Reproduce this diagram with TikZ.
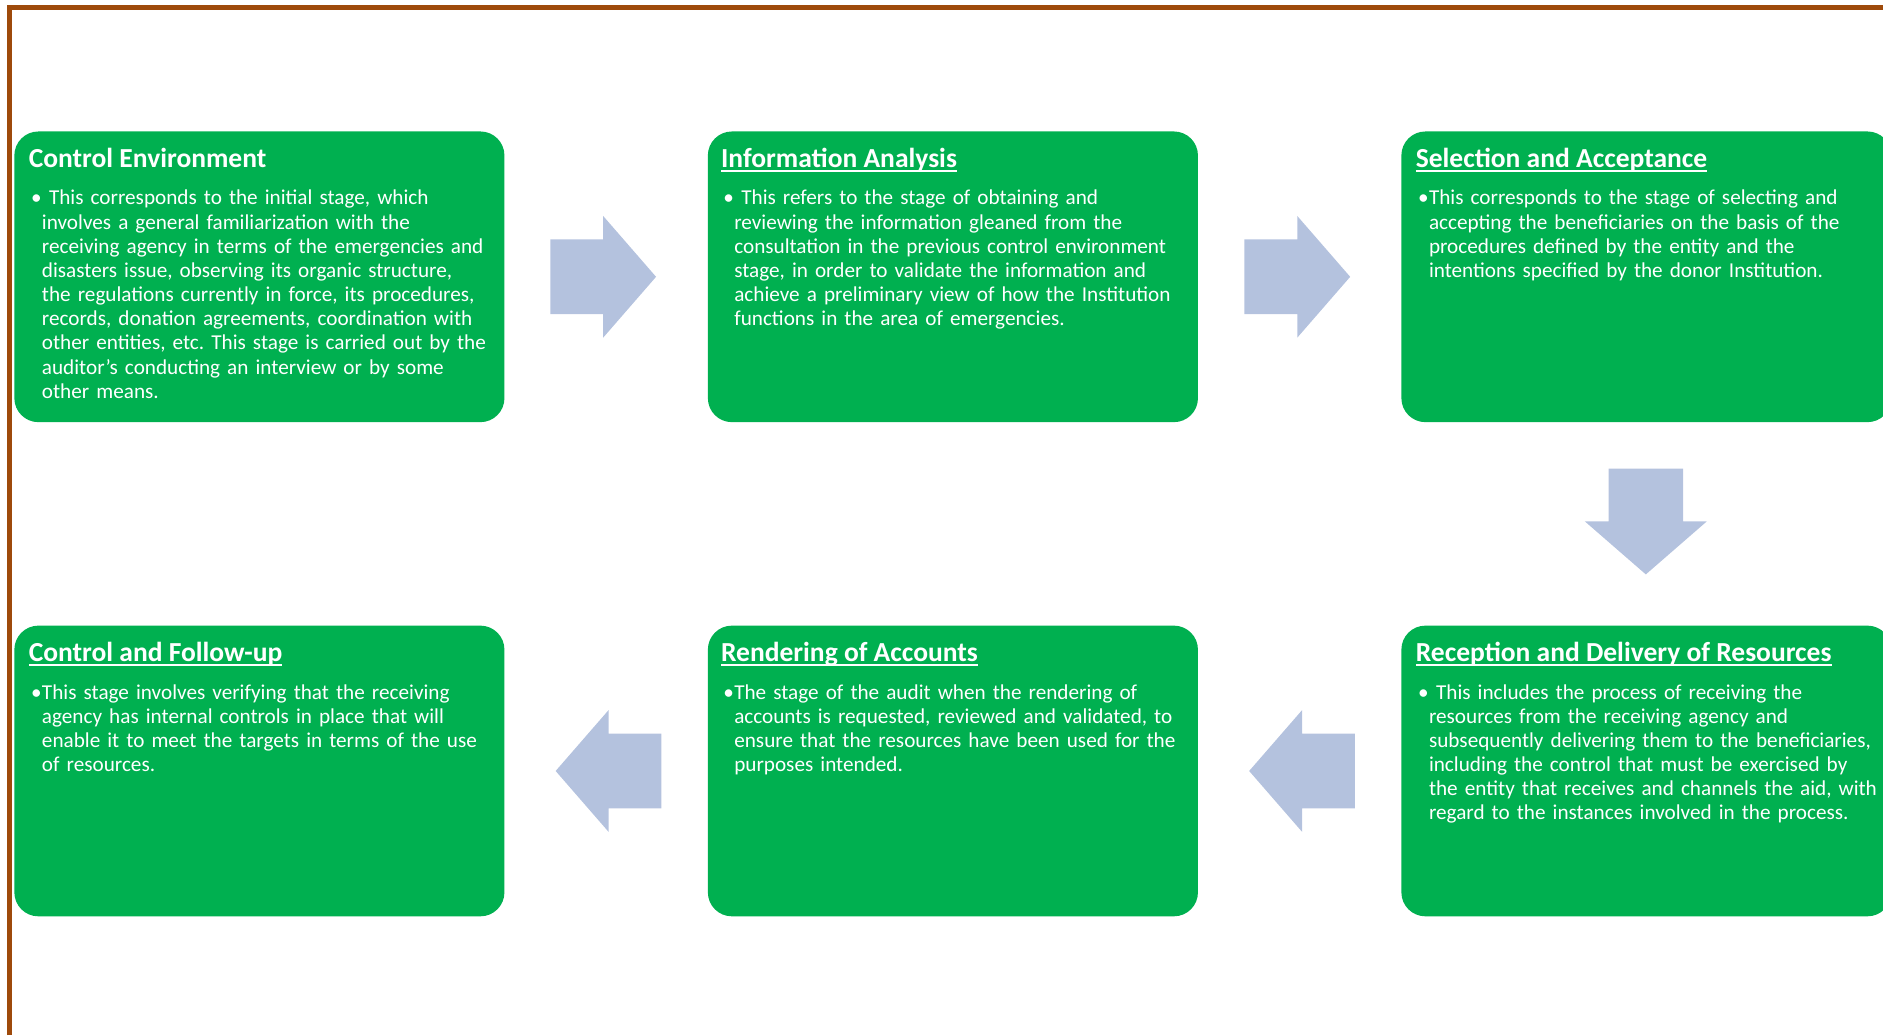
\documentclass[tikz,border=0pt]{standalone}
\usepackage{fontspec}
\setmainfont{Carlito}
\usetikzlibrary{shapes.arrows}

\definecolor{stagegreen}{HTML}{00B050}
\definecolor{arrowblue}{HTML}{B4C2DE}
\definecolor{framebrown}{HTML}{9E4A0B}

% bullet hung into the left margin of the body text
\newcommand{\stagebul}{\llap{\makebox[0.225cm][l]{\textbullet}}}
% underline that runs through the descenders
\newcommand{\stageul}[1]{\setbox0\hbox{#1}\rlap{\rule[-0.17em]{\wd0}{0.07em}}\box0}

\begin{document}
\begin{tikzpicture}[x=0.025cm,y=-0.025cm]
\tikzset{
  stagebox/.style={rectangle,rounded corners=0.5cm,fill=stagegreen,minimum width=10.2cm,minimum height=6.05cm,inner sep=0pt},
  stagetitle/.style={anchor=base west,inner sep=0pt,text=white,font=\fontsize{16.3}{19}\selectfont\bfseries},
  stagetext/.style={anchor=base west,inner sep=0pt,text=white,text width=10.2cm,align=left,font=\fontsize{12.55}{14.3}\selectfont\frenchspacing},
  flowarrow/.style={single arrow,anchor=tail,fill=arrowblue,inner xsep=0pt,inner ysep=0.77cm,minimum height=2.2cm,single arrow head extend=0.49cm,single arrow tip angle=98},
  frameline/.style={draw=framebrown,line width=0.115cm}
}
\useasboundingbox (0,0) rectangle (1568,862);
\draw[frameline] (8.1,862) -- (8.1,6.2) -- (1568,6.2);

% top row
\node[stagebox] (n_env) at (216,230.5) {};
\node[stagebox] (n_info) at (793.5,230.5) {};
\node[stagebox] (n_sel) at (1371,230.5) {};
% bottom row
\node[stagebox] (n_follow) at (216,642) {};
\node[stagebox] (n_rend) at (793.5,642) {};
\node[stagebox] (n_recv) at (1371,642) {};

\node[stagetitle] (t_env) at ([shift={(12,30)}]n_env.north west) {Control Environment};
\node[stagetext] (b_env) at ([shift={(23,61.5)}]n_env.north west) {\stagebul\ This corresponds to the initial stage, which\\
involves a general familiarization with the\\
receiving agency in terms of the emergencies and\\
disasters issue, observing its organic structure,\\
the regulations currently in force, its procedures,\\
records, donation agreements, coordination with\\
other entities, etc. This stage is carried out by the\\
auditor’s conducting an interview or by some\\
other means.};

\node[stagetitle] (t_info) at ([shift={(11,30)}]n_info.north west) {\stageul{Information Analysis}};
\node[stagetext] (b_info) at ([shift={(22,61.5)}]n_info.north west) {\stagebul\ This refers to the stage of obtaining and\\
reviewing the information gleaned from the\\
consultation in the previous control environment\\
stage, in order to validate the information and\\
achieve a preliminary view of how the Institution\\
functions in the area of emergencies.};

\node[stagetitle] (t_sel) at ([shift={(12,30)}]n_sel.north west) {\stageul{Selection and Acceptance}};
\node[stagetext] (b_sel) at ([shift={(23,61.5)}]n_sel.north west) {\stagebul This corresponds to the stage of selecting and\\
accepting the beneficiaries on the basis of the\\
procedures defined by the entity and the\\
intentions specified by the donor Institution.};

\node[stagetitle] (t_recv) at ([shift={(12,30)}]n_recv.north west) {\stageul{Reception and Delivery of Resources}};
\node[stagetext] (b_recv) at ([shift={(23,61.5)}]n_recv.north west) {\stagebul\ This includes the process of receiving the\\
resources from the receiving agency and\\
subsequently delivering them to the beneficiaries,\\
including the control that must be exercised by\\
the entity that receives and channels the aid, with\\
regard to the instances involved in the process.};

\node[stagetitle] (t_rend) at ([shift={(11,30)}]n_rend.north west) {\stageul{Rendering of Accounts}};
\node[stagetext] (b_rend) at ([shift={(22,61.5)}]n_rend.north west) {\stagebul The stage of the audit when the rendering of\\
accounts is requested, reviewed and validated, to\\
ensure that the resources have been used for the\\
purposes intended.};

\node[stagetitle] (t_follow) at ([shift={(12,30)}]n_follow.north west) {\stageul{Control and Follow-up}};
\node[stagetext] (b_follow) at ([shift={(23,61.5)}]n_follow.north west) {\stagebul This stage involves verifying that the receiving\\
agency has internal controls in place that will\\
enable it to meet the targets in terms of the use\\
of resources.};

% block arrows between the stages, placed by their tails
\node[flowarrow] (a_env_info) at (458,230.5) {};
\node[flowarrow] (a_info_sel) at (1036,230.5) {};
\node[flowarrow,rotate=-90] (a_sel_recv) at (1370.5,390) {};
\node[flowarrow,rotate=180] (a_recv_rend) at (1128.5,642) {};
\node[flowarrow,rotate=180] (a_rend_follow) at (551,642) {};
\end{tikzpicture}
\end{document}
